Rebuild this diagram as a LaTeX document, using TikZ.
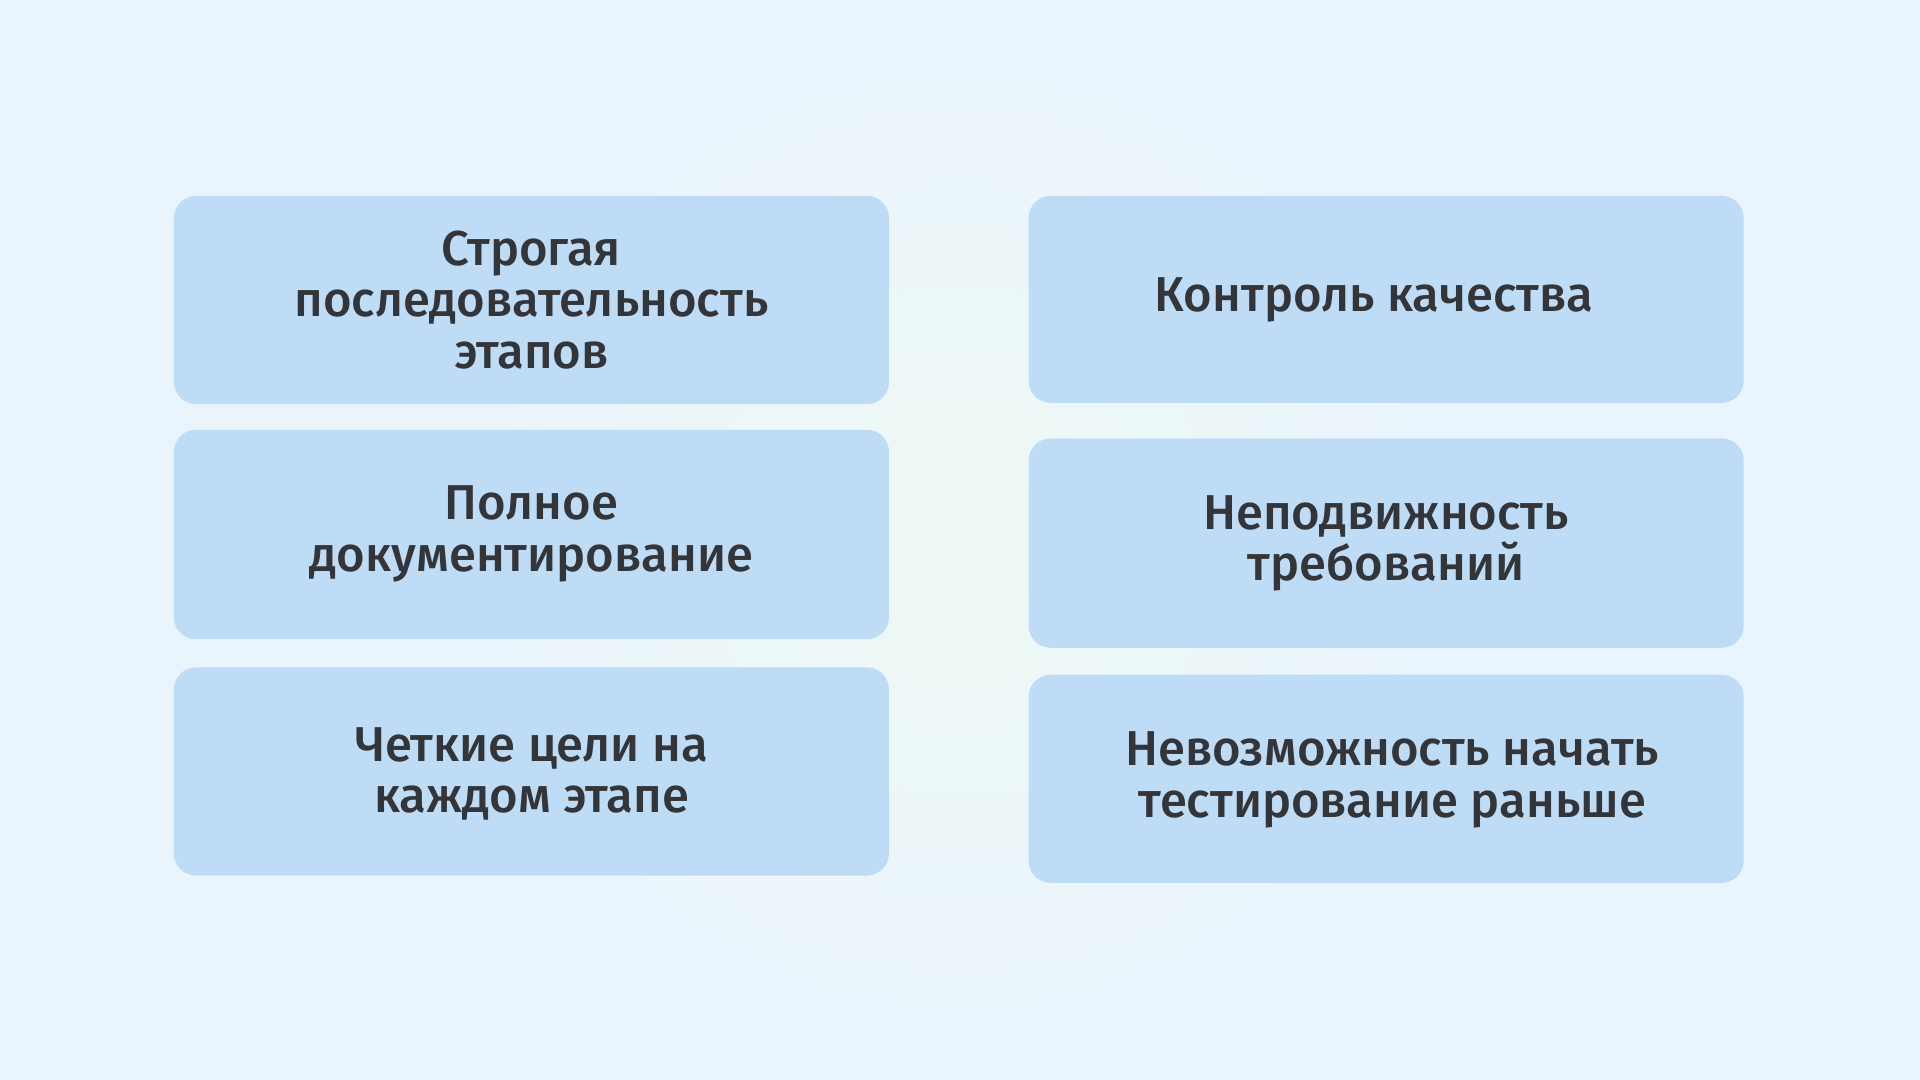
\documentclass[tikz,border=0pt]{standalone}
\usepackage{fontspec}
\setmainfont{Fira Sans}[BoldFont={Fira Sans Medium}]
\begin{document}
\begin{tikzpicture}[x=0.5pt,y=-0.5pt,
  card/.style={fill=cardblue,rounded corners=9pt,draw=none},
  lbl/.style={align=center,font=\bfseries\fontsize{20}{21}\selectfont,text=txt}]
\definecolor{bg}{HTML}{EAF4FD}
\definecolor{bgc}{HTML}{EEF9F4}
\definecolor{cardblue}{HTML}{BFDCF7}
\definecolor{txt}{HTML}{333538}
\useasboundingbox (0,0) rectangle (1568,882);
\fill[bg] (0,0) rectangle (1568,882);
\shade[inner color=bgc,outer color=bg,draw=none] (784,441) circle (420);
\fill[card] (142,160) rectangle (726,330) coordinate (a1);
\node[lbl] (t1) at (434,245) {Строгая\\последовательность\\этапов};
\fill[card] (142,351) rectangle (726,522);
\node[lbl] (t2) at (434,436) {Полное\\документирование};
\fill[card] (142,545) rectangle (726,715);
\node[lbl] (t3) at (434,632) {Четкие цели на\\каждом этапе};
\fill[card] (840,160) rectangle (1424,329);
\node[lbl] (t4) at (1122,245) {Контроль качества};
\fill[card] (840,358) rectangle (1424,529);
\node[lbl] (t5) at (1132,444) {Неподвижность\\требований};
\fill[card] (840,551) rectangle (1424,721);
\node[lbl] (t6) at (1137,637) {Невозможность начать\\тестирование раньше};
\end{tikzpicture}
\end{document}
